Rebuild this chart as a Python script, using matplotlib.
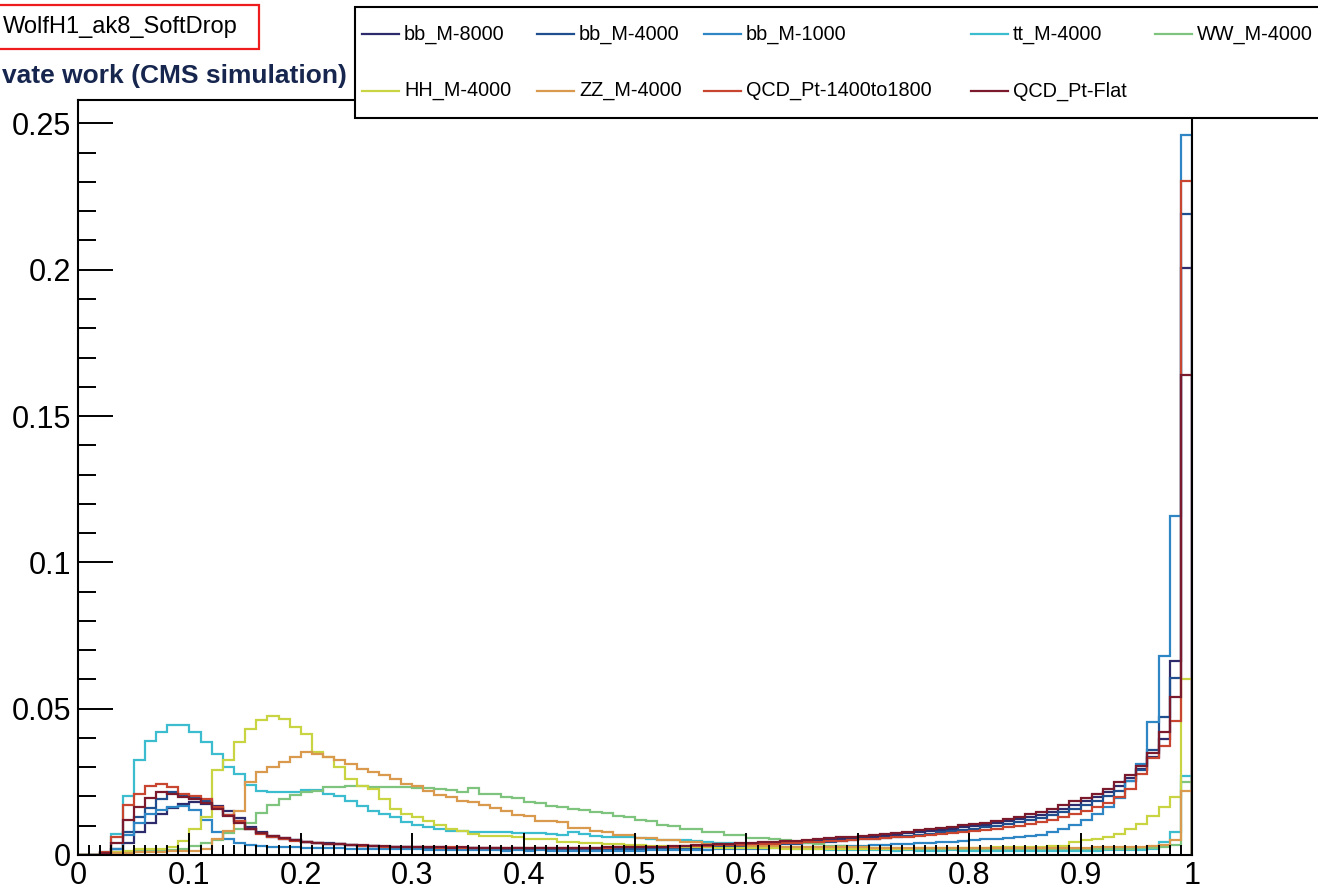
import numpy as np
import matplotlib
matplotlib.use("Agg")
import matplotlib.pyplot as plt
from matplotlib.patches import Rectangle
from matplotlib.ticker import MultipleLocator

plt.rcParams['font.family'] = ['Liberation Sans', 'DejaVu Sans']

# 100 bins of width 0.01 between 0 and 1
edges = np.linspace(0.0, 1.0, 101)

names = ["bb_M-8000", "bb_M-4000", "bb_M-1000", "tt_M-4000", "WW_M-4000",
         "HH_M-4000", "ZZ_M-4000", "QCD_Pt-1400to1800", "QCD_Pt-Flat"]
colors = ["#2d2b6b", "#1f4f8f", "#2f86c4", "#3cbccf", "#7ec47f",
          "#c9d443", "#d99a4e", "#c8462f", "#7b1a2c"]

bb_8000 = [
    0, 0, 0.0005, 0.001, 0.004, 0.008, 0.011, 0.014, 0.016, 0.0175,
    0.018, 0.0175, 0.0168, 0.015, 0.0125, 0.0095, 0.008, 0.0065, 0.0058, 0.005,
    0.0045, 0.0042, 0.004, 0.0037, 0.0034, 0.0032, 0.003, 0.0029, 0.0028, 0.0027,
    0.0026, 0.0025, 0.0026, 0.0024, 0.0025, 0.0023, 0.0024, 0.0023, 0.0022, 0.0023,
    0.0022, 0.0023, 0.0021, 0.0022, 0.0022, 0.0021, 0.0022, 0.0021, 0.0022, 0.0023,
    0.0022, 0.0023, 0.0024, 0.0025, 0.0026, 0.0027, 0.0028, 0.003, 0.0031, 0.0033,
    0.0034, 0.0036, 0.0038, 0.004, 0.0042, 0.0045, 0.0047, 0.005, 0.0053, 0.0056,
    0.006, 0.0063, 0.0066, 0.007, 0.0074, 0.0078, 0.0082, 0.0086, 0.009, 0.0095,
    0.0099, 0.0104, 0.011, 0.0116, 0.0123, 0.013, 0.0138, 0.0147, 0.0158, 0.017,
    0.0183, 0.0198, 0.0215, 0.0237, 0.0262, 0.0295, 0.0335, 0.0396, 0.0664, 0.2006]

bb_4000 = [
    0, 0, 0.0006, 0.002, 0.008, 0.013, 0.016, 0.019, 0.0215, 0.0205,
    0.0195, 0.0183, 0.016, 0.0135, 0.0115, 0.009, 0.0075, 0.0062, 0.0055, 0.005,
    0.0045, 0.0041, 0.0038, 0.0036, 0.0033, 0.0031, 0.003, 0.0028, 0.0027, 0.0026,
    0.0024, 0.0025, 0.0023, 0.0024, 0.0022, 0.0023, 0.0022, 0.0021, 0.0022, 0.0021,
    0.0021, 0.002, 0.0021, 0.002, 0.0021, 0.002, 0.002, 0.0021, 0.002, 0.0021,
    0.0021, 0.0022, 0.0022, 0.0023, 0.0024, 0.0025, 0.0026, 0.0027, 0.0028, 0.003,
    0.0031, 0.0033, 0.0034, 0.0036, 0.0038, 0.004, 0.0042, 0.0045, 0.0047, 0.005,
    0.0053, 0.0056, 0.0059, 0.0062, 0.0066, 0.007, 0.0073, 0.0077, 0.0081, 0.0085,
    0.009, 0.0095, 0.01, 0.0106, 0.0113, 0.012, 0.0128, 0.0137, 0.0147, 0.0158,
    0.017, 0.0185, 0.0202, 0.022, 0.0252, 0.029, 0.036, 0.047, 0.0605, 0.219]

bb_1000 = [
    0, 0, 0.0005, 0.002, 0.007, 0.011, 0.014, 0.0155, 0.0165, 0.0168,
    0.0155, 0.012, 0.008, 0.0055, 0.004, 0.0033, 0.003, 0.0028, 0.0027, 0.0026,
    0.0025, 0.0024, 0.0024, 0.0023, 0.0022, 0.0022, 0.0021, 0.002, 0.002, 0.0019,
    0.0019, 0.0018, 0.0018, 0.0017, 0.0017, 0.0016, 0.0017, 0.0016, 0.0015, 0.0016,
    0.0015, 0.0016, 0.0015, 0.0015, 0.0014, 0.0015, 0.0015, 0.0014, 0.0015, 0.0015,
    0.0015, 0.0016, 0.0016, 0.0017, 0.0017, 0.0018, 0.0018, 0.0019, 0.002, 0.002,
    0.0021, 0.0022, 0.0023, 0.0024, 0.0025, 0.0026, 0.0027, 0.0028, 0.003, 0.0031,
    0.0032, 0.0034, 0.0035, 0.0037, 0.0038, 0.004, 0.0042, 0.0044, 0.0046, 0.0048,
    0.005, 0.0053, 0.0056, 0.0059, 0.0062, 0.0066, 0.007, 0.0077, 0.009, 0.0101,
    0.0118, 0.014, 0.0164, 0.0194, 0.0254, 0.0311, 0.0453, 0.068, 0.116, 0.2462]

tt_4000 = [
    0, 0, 0.001, 0.0072, 0.0203, 0.0325, 0.039, 0.042, 0.0445, 0.0445,
    0.042, 0.0385, 0.0345, 0.030, 0.0277, 0.024, 0.022, 0.0215, 0.0214, 0.0214,
    0.0223, 0.0223, 0.0209, 0.0203, 0.0186, 0.0169, 0.0152, 0.014, 0.0129, 0.0112,
    0.0103, 0.0095, 0.0089, 0.0083, 0.0082, 0.008, 0.0078, 0.0077, 0.0077, 0.0076,
    0.0076, 0.0075, 0.0072, 0.007, 0.0078, 0.0072, 0.0065, 0.0062, 0.006, 0.006,
    0.0058, 0.0055, 0.0052, 0.005, 0.005, 0.0048, 0.0045, 0.0042, 0.004, 0.0037,
    0.0034, 0.0031, 0.0028, 0.0025, 0.0022, 0.002, 0.0019, 0.0018, 0.0017, 0.0017,
    0.0016, 0.0016, 0.0016, 0.0015, 0.0016, 0.0015, 0.0015, 0.0015, 0.0016, 0.0015,
    0.0015, 0.0015, 0.0014, 0.0015, 0.0015, 0.0014, 0.0015, 0.0014, 0.0015, 0.0015,
    0.0015, 0.0015, 0.0016, 0.0016, 0.0017, 0.0018, 0.0022, 0.0043, 0.0078, 0.027]

ww_4000 = [
    0, 0, 0.0003, 0.0008, 0.001, 0.0012, 0.0013, 0.0015, 0.0017, 0.002,
    0.003, 0.004, 0.005, 0.0075, 0.009, 0.011, 0.0145, 0.017, 0.019, 0.0205,
    0.0215, 0.022, 0.0232, 0.0232, 0.0235, 0.0235, 0.0234, 0.0233, 0.0233, 0.0232,
    0.023, 0.0228, 0.0225, 0.0222, 0.0215, 0.0228, 0.021, 0.0207, 0.0198, 0.0195,
    0.018, 0.0178, 0.0168, 0.0165, 0.0158, 0.0155, 0.0146, 0.0144, 0.0133, 0.013,
    0.0118, 0.0115, 0.0103, 0.01, 0.009, 0.0088, 0.0079, 0.0077, 0.007, 0.0068,
    0.0059, 0.0057, 0.0054, 0.005, 0.0045, 0.004, 0.0036, 0.0032, 0.003, 0.0028,
    0.0026, 0.0025, 0.0024, 0.0023, 0.0022, 0.0022, 0.0021, 0.0021, 0.002, 0.002,
    0.002, 0.002, 0.0019, 0.002, 0.0019, 0.0019, 0.002, 0.0019, 0.0019, 0.002,
    0.002, 0.002, 0.0021, 0.0021, 0.0022, 0.0023, 0.0025, 0.0028, 0.0035, 0.025]

hh_4000 = [
    0, 0, 0.0005, 0.001, 0.0015, 0.002, 0.002, 0.0022, 0.0026, 0.0049,
    0.0089, 0.0129, 0.029, 0.0323, 0.0385, 0.0431, 0.046, 0.0474, 0.0465, 0.0437,
    0.0414, 0.0351, 0.0334, 0.030, 0.026, 0.0237, 0.0226, 0.019, 0.0156, 0.014,
    0.0129, 0.0117, 0.0103, 0.0089, 0.0083, 0.0072, 0.0066, 0.0066, 0.0065, 0.006,
    0.0055, 0.0055, 0.0054, 0.0046, 0.0046, 0.0042, 0.004, 0.0038, 0.0036, 0.0035,
    0.0033, 0.0031, 0.003, 0.0029, 0.0028, 0.0027, 0.0026, 0.0025, 0.0025, 0.0024,
    0.0024, 0.0023, 0.0023, 0.0022, 0.0022, 0.0022, 0.0021, 0.0021, 0.0021, 0.0021,
    0.0021, 0.0021, 0.0022, 0.0022, 0.0022, 0.0023, 0.0023, 0.0023, 0.0024, 0.0024,
    0.0025, 0.0025, 0.0026, 0.0026, 0.0027, 0.0028, 0.0029, 0.003, 0.0032, 0.0045,
    0.005, 0.0055, 0.0062, 0.0072, 0.0089, 0.0106, 0.0134, 0.0164, 0.0197, 0.060]

zz_4000 = [
    0, 0, 0.0003, 0.0006, 0.0008, 0.001, 0.001, 0.0011, 0.0012, 0.0013,
    0.0015, 0.0021, 0.0055, 0.0083, 0.0152, 0.0249, 0.0283, 0.030, 0.0317, 0.0334,
    0.0351, 0.0346, 0.0334, 0.0323, 0.0311, 0.0294, 0.0283, 0.0272, 0.026, 0.0243,
    0.0237, 0.0218, 0.0205, 0.0197, 0.0186, 0.018, 0.0171, 0.016, 0.0151, 0.0135,
    0.0133, 0.0117, 0.0116, 0.0114, 0.0093, 0.0093, 0.0082, 0.008, 0.007, 0.0068,
    0.0059, 0.0057, 0.005, 0.005, 0.0043, 0.0043, 0.0038, 0.0036, 0.0035, 0.0033,
    0.0032, 0.0031, 0.003, 0.0029, 0.0028, 0.0028, 0.0027, 0.0027, 0.0026, 0.0026,
    0.0026, 0.0025, 0.0025, 0.0025, 0.0025, 0.0024, 0.0024, 0.0024, 0.0024, 0.0024,
    0.0024, 0.0024, 0.0024, 0.0024, 0.0024, 0.0024, 0.0025, 0.0025, 0.0025, 0.0025,
    0.0025, 0.0026, 0.0026, 0.0027, 0.0028, 0.0029, 0.003, 0.0035, 0.005, 0.0218]

qcd_1400 = [
    0, 0, 0.001, 0.006, 0.017, 0.021, 0.0235, 0.0243, 0.0232, 0.021,
    0.0202, 0.019, 0.0165, 0.0135, 0.0115, 0.0088, 0.0072, 0.0062, 0.0055, 0.0049,
    0.0045, 0.0041, 0.0039, 0.0036, 0.0034, 0.0032, 0.003, 0.0029, 0.0028, 0.0027,
    0.0026, 0.0027, 0.0025, 0.0026, 0.0025, 0.0024, 0.0025, 0.0024, 0.0024, 0.0023,
    0.0024, 0.0023, 0.0024, 0.0023, 0.0024, 0.0024, 0.0025, 0.0025, 0.0026, 0.0026,
    0.0027, 0.0027, 0.0028, 0.0029, 0.003, 0.0031, 0.0032, 0.0033, 0.0034, 0.0035,
    0.0036, 0.0037, 0.0039, 0.004, 0.0042, 0.0043, 0.0045, 0.0047, 0.0049, 0.0051,
    0.0053, 0.0055, 0.0057, 0.006, 0.0062, 0.0065, 0.0068, 0.0071, 0.0074, 0.0078,
    0.0082, 0.0086, 0.009, 0.0095, 0.01, 0.0106, 0.0113, 0.012, 0.0129, 0.0139,
    0.015, 0.0163, 0.0178, 0.0198, 0.0225, 0.0278, 0.033, 0.0374, 0.0459, 0.2303]

qcd_flat = [
    0, 0, 0.0008, 0.004, 0.012, 0.0165, 0.0195, 0.0215, 0.021, 0.0198,
    0.019, 0.0178, 0.0158, 0.0132, 0.011, 0.009, 0.0076, 0.0066, 0.0057, 0.005,
    0.0046, 0.0042, 0.0039, 0.0037, 0.0035, 0.0033, 0.0031, 0.003, 0.0029, 0.0028,
    0.0027, 0.0026, 0.0027, 0.0025, 0.0026, 0.0025, 0.0024, 0.0025, 0.0024, 0.0024,
    0.0025, 0.0024, 0.0024, 0.0025, 0.0024, 0.0025, 0.0025, 0.0026, 0.0026, 0.0027,
    0.0027, 0.0028, 0.0029, 0.003, 0.0031, 0.0033, 0.0034, 0.0036, 0.0038, 0.004,
    0.0041, 0.0043, 0.0045, 0.0047, 0.0049, 0.0051, 0.0054, 0.0057, 0.006, 0.0063,
    0.0066, 0.0069, 0.0072, 0.0076, 0.008, 0.0084, 0.0088, 0.0092, 0.0097, 0.0101,
    0.0106, 0.0111, 0.0117, 0.0123, 0.0131, 0.0139, 0.0148, 0.0158, 0.017, 0.0183,
    0.0196, 0.021, 0.0227, 0.0248, 0.0272, 0.0305, 0.035, 0.0421, 0.054, 0.164]

hists = [bb_8000, bb_4000, bb_1000, tt_4000, ww_4000,
         hh_4000, zz_4000, qcd_1400, qcd_flat]

W, H = 1318, 891
fig = plt.figure(figsize=(W / 100, H / 100), dpi=100)
fig.patch.set_facecolor("white")

ax = fig.add_axes([78 / W, 1 - 855 / H, (1192 - 78) / W, (855 - 100) / H])
for vals, col in zip(hists, colors):
    ax.stairs(vals, edges, baseline=0, color=col, lw=1.6)

ax.set_xlim(0, 1)
ax.set_ylim(0, 0.258)

# ROOT-like frame: inward ticks, only bottom and left
for s in ax.spines.values():
    s.set_linewidth(1.5)
ax.xaxis.set_minor_locator(MultipleLocator(0.01))
ax.yaxis.set_minor_locator(MultipleLocator(0.01))
ax.set_xticks(np.arange(0, 1.01, 0.1))
ax.set_xticklabels(["0", "0.1", "0.2", "0.3", "0.4", "0.5", "0.6", "0.7", "0.8", "0.9", "1"])
ax.set_yticks([0, 0.05, 0.1, 0.15, 0.2, 0.25])
ax.set_yticklabels(["0", "0.05", "0.1", "0.15", "0.2", "0.25"])
ax.tick_params(axis="both", which="both", direction="in", top=False, right=False,
               width=1.4, labelsize=22)
ax.tick_params(axis="x", which="major", length=16, pad=4)
ax.tick_params(axis="x", which="minor", length=7.5)
ax.tick_params(axis="y", which="major", length=25, pad=5)
ax.tick_params(axis="y", which="minor", length=13)

# overlay in pixel coordinates for the header texts and the legend box
ov = fig.add_axes([0, 0, 1, 1], zorder=5)
ov.set_xlim(0, W)
ov.set_ylim(H, 0)
ov.axis("off")
ov.patch.set_alpha(0)

ov.add_patch(Rectangle((-5, 5), 264, 44, fill=True, facecolor="white",
                       edgecolor="#ee1c1c", lw=1.6))
ov.text(3, 27, "WolfH1_ak8_SoftDrop", fontsize=17, va="center", ha="left")
ov.text(2, 76, "vate work (CMS simulation)", fontsize=19, fontweight="bold",
        color="#16264f", va="center", ha="left")

ov.add_patch(Rectangle((355, 7), 1000, 111, facecolor="white",
                       edgecolor="black", lw=1.5))
col_x = [362, 537, 704, 971, 1155]
row_y = [34, 91]
for k, (name, col) in enumerate(zip(names, colors)):
    r, c = divmod(k, 5)
    x0, y0 = col_x[c], row_y[r]
    ov.plot([x0, x0 + 37], [y0, y0], color=col, lw=1.6)
    ov.text(x0 + 42, y0, name, fontsize=14.3, va="center", ha="left")

fig.savefig("out.png", dpi=100)
